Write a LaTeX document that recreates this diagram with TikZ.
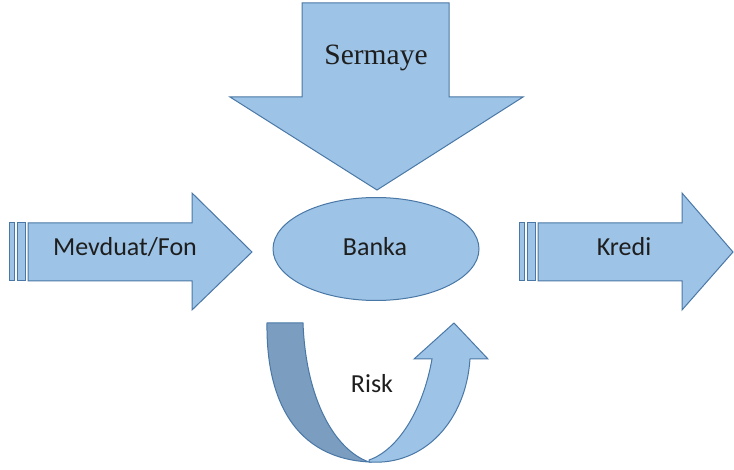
\documentclass[tikz,border=0pt]{standalone}
\usepackage{fontspec}
\setmainfont{Liberation Serif}
\newfontfamily\calfont{Carlito}
\usetikzlibrary{shapes.geometric}
\definecolor{shapefill}{HTML}{9DC3E6}
\definecolor{shapeline}{HTML}{4A78A6}
\definecolor{darkband}{HTML}{7A9DC0}
\definecolor{txt}{HTML}{1E1E1E}
\begin{document}
\begin{tikzpicture}[x=1pt,y=-1pt,
  shp/.style={fill=shapefill,draw=shapeline,line width=1pt,line join=miter},
  lbl/.style={text=txt,font=\calfont\fontsize{26}{30}\selectfont,inner sep=0pt}]
\useasboundingbox (0,0) rectangle (734,470);
% Sermaye arrow
\draw[shp] (302,3) -- (449,3) -- (449,97) -- (523,97) -- (377,190) -- (230,97) -- (302,97) -- cycle;
\node[text=txt,font=\fontsize{29.5}{32}\selectfont,inner sep=0pt] (sermaye) at (376,58) {Sermaye};
% Mevduat/Fon arrow
\draw[shp] (9,223) rectangle (14.5,281);
\draw[shp] (17,223) rectangle (25.5,281);
\draw[shp] (28,223) -- (192,223) -- (192,193) -- (252,252) -- (192,310) -- (192,281) -- (28,281) -- cycle;
\node[lbl] (mevduat) at (125,247) {Mevduat/Fon};
% Kredi arrow
\draw[shp] (519,223) rectangle (524.5,281);
\draw[shp] (527,223) rectangle (535.5,281);
\draw[shp] (538,223) -- (682,223) -- (682,193) -- (733,252) -- (682,310) -- (682,281) -- (538,281) -- cycle;
\node[lbl] (kredi) at (624,247) {Kredi};
% Banka ellipse
\node[shp,ellipse,minimum width=206pt,minimum height=103pt,inner sep=0pt] (banka) at (376,249) {};
\node[lbl] (bankatxt) at (375,247) {Banka};
% Risk U-turn arrow
\draw[shp,fill=darkband] (267,323) .. controls (266,400) and (295,458) .. (369,462)
  .. controls (335,450) and (306,400) .. (303,323) -- cycle;
\draw[shp] (369,462) .. controls (425,466) and (466,420) .. (470,359)
  -- (488,359) -- (454,323) -- (414,359) -- (432,359)
  .. controls (423,410) and (398,450) .. (369,460) -- cycle;
\node[lbl] (risk) at (372,384) {Risk};
\end{tikzpicture}
\end{document}
